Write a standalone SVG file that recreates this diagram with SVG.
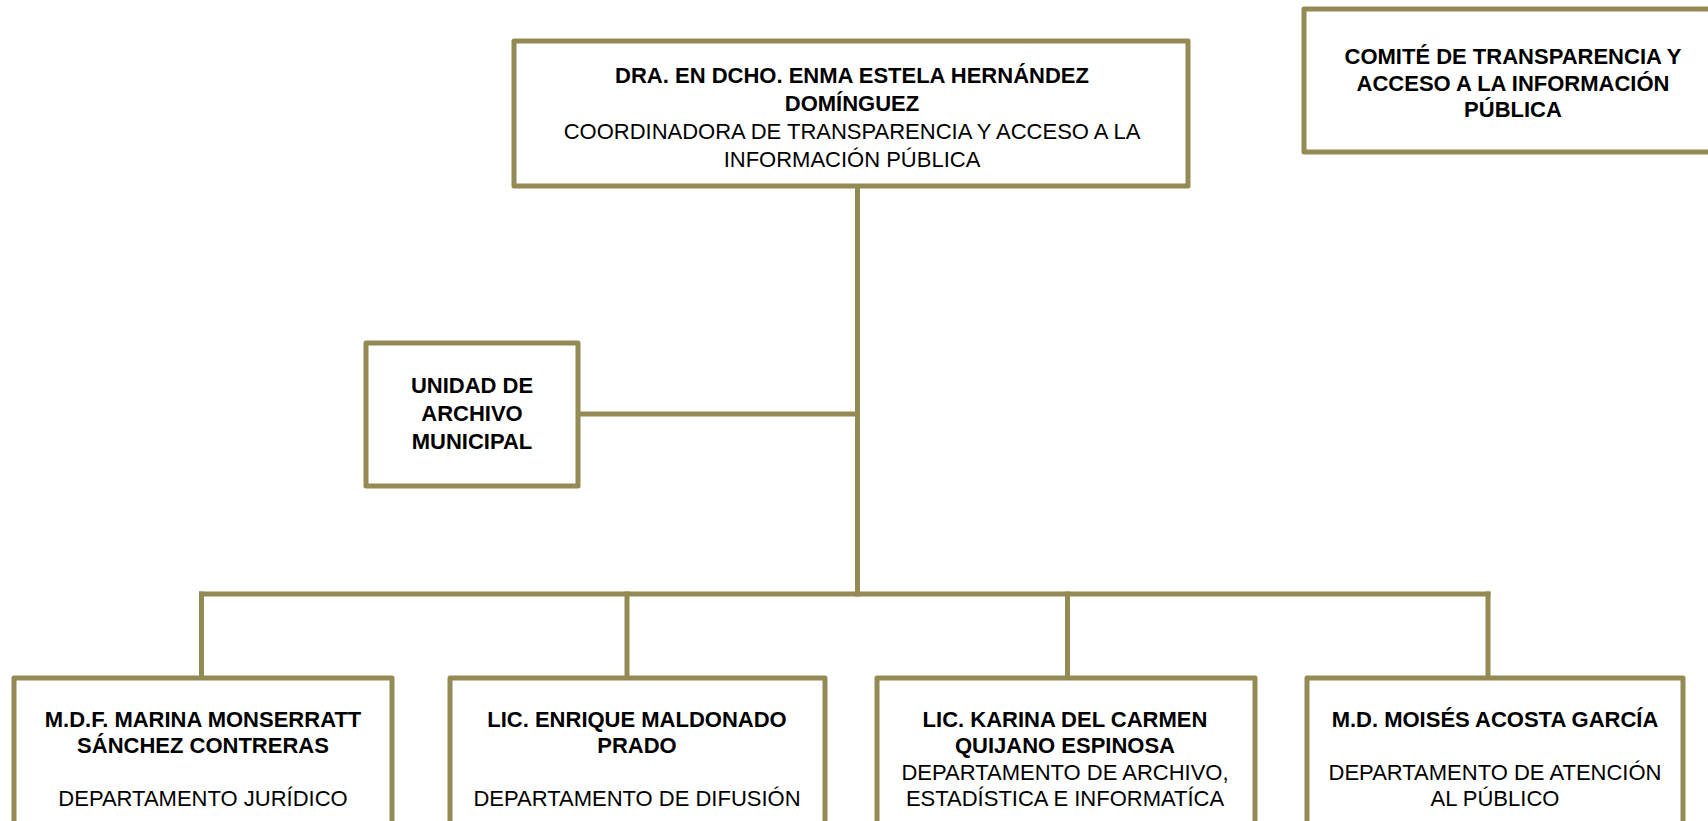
<svg xmlns="http://www.w3.org/2000/svg" width="1708" height="821" viewBox="0 0 1708 821">
<style>
.box{fill:#ffffff;stroke:#948A54;stroke-width:5;stroke-linejoin:round}
.ln{stroke:#948A54;stroke-width:5;fill:none;stroke-linecap:square}
text{font-family:"Liberation Sans",Arial,sans-serif;fill:#000000;text-anchor:middle}
.b{font-weight:bold;font-size:22px}
.r{font-size:22px}
</style>
<rect x="0" y="0" width="1708" height="821" fill="#ffffff"/>
<g id="connectors">
<line class="ln" x1="857.5" y1="186" x2="857.5" y2="594"/>
<line class="ln" x1="578" y1="414" x2="857.5" y2="414"/>
<line class="ln" x1="201.5" y1="594" x2="1488" y2="594"/>
<line class="ln" x1="201.5" y1="594" x2="201.5" y2="678"/>
<line class="ln" x1="627" y1="594" x2="627" y2="678"/>
<line class="ln" x1="1067.5" y1="594" x2="1067.5" y2="678"/>
<line class="ln" x1="1488" y1="594" x2="1488" y2="678"/>
</g>
<g id="coordinadora">
<rect class="box" x="514" y="41" width="674" height="145"/>
<text class="b" x="852" y="83">DRA. EN DCHO. ENMA ESTELA HERNÁNDEZ</text>
<text class="b" x="852" y="111">DOMÍNGUEZ</text>
<text class="r" x="852" y="139">COORDINADORA DE TRANSPARENCIA Y ACCESO A LA</text>
<text class="r" x="852" y="167">INFORMACIÓN PÚBLICA</text>
</g>
<g id="comite">
<rect class="box" x="1304" y="9" width="420" height="143"/>
<text class="b" x="1513" y="64">COMITÉ DE TRANSPARENCIA Y</text>
<text class="b" x="1513" y="91">ACCESO A LA INFORMACIÓN</text>
<text class="b" x="1513" y="117">PÚBLICA</text>
</g>
<g id="unidad">
<rect class="box" x="366" y="343" width="212" height="143"/>
<text class="b" x="472" y="393">UNIDAD DE</text>
<text class="b" x="472" y="421">ARCHIVO</text>
<text class="b" x="472" y="449">MUNICIPAL</text>
</g>
<g id="juridico">
<rect class="box" x="14" y="678" width="378" height="200"/>
<text class="b" x="203" y="727">M.D.F. MARINA MONSERRATT</text>
<text class="b" x="203" y="753">SÁNCHEZ CONTRERAS</text>
<text class="r" x="203" y="806">DEPARTAMENTO JURÍDICO</text>
</g>
<g id="difusion">
<rect class="box" x="450" y="678" width="375" height="200"/>
<text class="b" x="637" y="727">LIC. ENRIQUE MALDONADO</text>
<text class="b" x="637" y="753">PRADO</text>
<text class="r" x="637" y="806">DEPARTAMENTO DE DIFUSIÓN</text>
</g>
<g id="archivo">
<rect class="box" x="877" y="678" width="378" height="200"/>
<text class="b" x="1065" y="727">LIC. KARINA DEL CARMEN</text>
<text class="b" x="1065" y="753">QUIJANO ESPINOSA</text>
<text class="r" x="1065" y="780">DEPARTAMENTO DE ARCHIVO,</text>
<text class="r" x="1065" y="806">ESTADÍSTICA E INFORMATÍCA</text>
</g>
<g id="atencion">
<rect class="box" x="1307" y="678" width="376" height="200"/>
<text class="b" x="1495" y="727">M.D. MOISÉS ACOSTA GARCÍA</text>
<text class="r" x="1495" y="780">DEPARTAMENTO DE ATENCIÓN</text>
<text class="r" x="1495" y="806">AL PÚBLICO</text>
</g>
</svg>
